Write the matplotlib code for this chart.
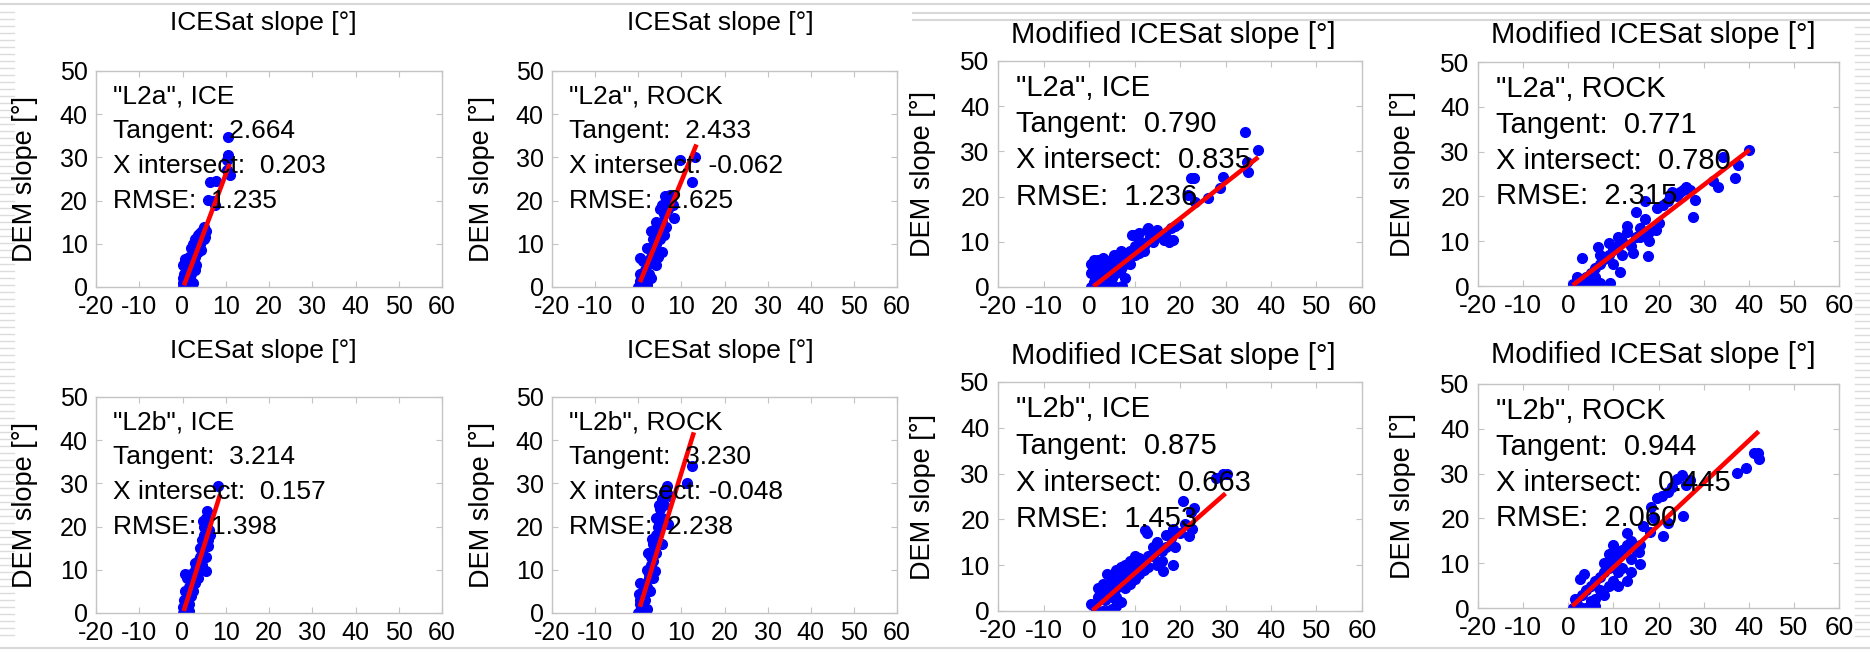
import numpy as np
import matplotlib
matplotlib.use("Agg")
import matplotlib.pyplot as plt
from matplotlib.lines import Line2D

plt.rcParams['font.family'] = ['Liberation Sans', 'DejaVu Sans']
plt.rcParams['axes.unicode_minus'] = False

# panel labels and fit statistics
panel_names = ['"L2a", ICE', '"L2a", ROCK', '"L2a", ICE', '"L2a", ROCK',
               '"L2b", ICE', '"L2b", ROCK', '"L2b", ICE', '"L2b", ROCK']
tangents = [2.664, 2.433, 0.790, 0.771, 3.214, 3.230, 0.875, 0.944]
x_intersects = [0.203, -0.062, 0.835, 0.780, 0.157, -0.048, 0.663, 0.445]
rmses = [1.235, 2.625, 1.236, 2.315, 1.398, 2.238, 1.453, 2.060]
# x range covered by each fitted line
fit_x_start = [0.35, 0.4, 1.0, 1.0, 0.3, 0.4, 0.8, 0.9]
fit_x_end = [10.9, 13.5, 37.2, 40.2, 8.7, 12.9, 30.0, 42.2]

xticks = [-20, -10, 0, 10, 20, 30, 40, 50, 60]
yticks = [0, 10, 20, 30, 40, 50]

# (ICESat slope, DEM slope) points
l2a_ice_orig = [(10.5,34.8),(10.5,30.6),(10.2,29.4),(11.0,26.0),(10.3,27.0),(6.3,24.4),(7.7,24.6),(6.0,20.1),
                (7.0,20.0),(7.5,19.0),(5.0,14.0),(4.5,13.0),(4.0,12.5),(3.5,12.0),(3.0,11.0),(2.5,10.0),(2.0,9.0),
                (1.5,7.0),(1.0,6.0),(0.5,6.0),(0.0,5.0),(0.3,3.0),(0.0,1.0),(0.0,0.0),(1.0,0.0),(2.0,0.0),(2.5,1.0),
                (2.0,3.0),(2.5,5.0),(3.0,7.0),(3.5,8.0),(4.0,10.0),(5.0,11.0),(5.5,13.0),(3.0,9.0),(1.5,4.0),(1.0,2.0),
                (0.5,0.5),(1.5,1.0),(0.2,2.0),(1.2,3.5),(2.2,6.0),(3.2,5.0),(4.2,8.5),(0.8,4.5),(1.8,2.0),(2.8,4.0),
                (4.8,12.0),(5.3,11.5),(0.5,6.5)]
l2a_rock_orig = [(13.2,30.2),(9.7,29.4),(12.5,24.4),(8.3,15.9),(7.4,21.3),(6.8,20.0),(6.3,21.0),(4.6,7.0),(0.4,6.8),
                 (0.0,0.0),(1.0,0.0),(2.0,1.0),(1.0,2.0),(0.5,3.0),(1.5,4.0),(2.0,5.0),(3.0,7.0),(3.0,9.0),(2.0,9.0),
                 (3.5,11.0),(4.0,12.0),(4.5,13.0),(5.0,14.0),(5.5,15.0),(6.0,17.0),(5.0,18.0),(5.5,19.0),(4.0,15.0),
                 (3.0,13.0),(4.0,10.0),(5.0,11.0),(6.0,12.0),(3.5,8.0),(2.5,3.0),(3.0,2.0),(1.5,0.0),(2.0,0.5),
                 (7.0,18.0),(8.0,19.0),(6.5,20.0),(4.0,5.0),(5.5,8.0),(0.3,1.5),(1.2,6.0),(2.5,6.0),(3.8,13.5),
                 (6.5,14.0),(7.5,20.5),(0.8,0.5)]
l2a_ice_mod = [(34.3,34.4),(37.1,30.3),(34.7,27.7),(35.0,25.5),(29.5,24.4),(23.0,24.2),(22.4,24.2),(21.8,20.4),
               (23.3,18.9),(26.2,19.8),(28.8,22.0),(18.5,10.4),(9.4,11.5),(12.7,12.6),(15.0,12.6),(19.5,14.0),
               (18.0,13.0),(17.0,11.0),(16.5,10.5),(13.0,13.0),(11.0,12.0),(10.0,11.5),(12.0,9.0),(14.0,10.0),
               (9.0,8.0),(8.0,7.0),(7.0,8.0),(6.0,6.0),(5.0,5.0),(4.0,4.0),(3.0,3.5),(2.0,6.0),(1.0,6.0),(3.0,6.5),
               (2.0,2.0),(1.0,1.0),(0.5,0.0),(1.0,0.5),(2.0,0.0),(4.0,0.0),(6.0,0.0),(7.3,0.2),(8.0,2.0),(9.0,5.0),
               (10.0,7.0),(11.0,7.5),(12.0,8.0),(5.0,2.0),(6.0,3.0),(3.0,1.0),(4.0,2.0),(0.5,3.0),(0.5,5.0),
               (1.5,4.0),(2.5,4.5),(7.0,4.0),(8.0,5.0),(10.0,9.0),(15.0,11.0),(17.5,10.0),(19.0,13.5),(3.5,6.0),
               (5.5,7.0),(6.5,4.5),(8.5,6.0),(11.5,10.0),(13.5,11.0),(4.5,3.0),(2.5,1.0),(1.5,2.5)]
l2a_rock_mod = [(40.1,30.4),(34.3,28.9),(37.6,27.0),(37.0,24.2),(33.2,22.0),(32.0,23.5),(27.6,15.5),(28.0,19.2),
                (27.0,21.5),(24.8,21.0),(22.5,20.3),(19.6,17.3),(17.0,19.0),(17.7,6.7),(14.4,7.3),(11.5,3.2),
                (9.3,0.6),(7.0,0.6),(6.0,0.3),(5.9,1.9),(3.0,6.2),(6.6,8.8),(19.5,12.5),(20.0,14.0),(18.0,12.0),
                (16.0,13.0),(15.0,11.0),(13.0,12.0),(12.0,10.0),(11.0,9.0),(10.0,8.0),(9.0,7.0),(8.0,6.0),(7.0,5.0),
                (6.0,4.0),(5.0,3.0),(4.0,2.0),(3.0,1.0),(2.0,2.0),(1.0,0.5),(1.5,0.0),(3.0,0.0),(4.0,0.5),(5.0,0.0),
                (10.0,5.0),(12.0,7.0),(14.0,9.0),(16.0,11.0),(17.0,15.0),(15.0,16.5),(21.0,18.0),(23.0,21.0),
                (18.0,10.0),(13.0,13.5),(11.0,11.0),(9.0,9.5),(7.0,7.0),(22.0,19.0),(25.5,21.5),(24.0,20.0),
                (26.0,22.0)]
l2b_ice_orig = [(8.3,29.4),(5.6,23.6),(4.7,21.2),(6.1,19.2),(6.0,15.5),(5.5,9.8),(0.0,0.0),(0.5,1.0),(1.0,0.0),
                (0.3,3.0),(1.0,4.0),(0.5,5.0),(1.5,6.0),(2.0,7.0),(2.5,8.0),(2.0,9.0),(3.0,10.0),(3.5,12.0),
                (4.0,13.0),(4.5,14.0),(4.0,15.0),(5.0,16.0),(5.0,18.0),(5.0,20.0),(5.5,22.0),(4.0,10.0),(3.0,7.0),
                (2.0,4.0),(1.5,2.0),(3.5,8.0),(4.5,11.0),(5.5,13.0),(6.0,17.0),(1.0,8.0),(0.5,9.0),(1.5,0.5),
                (2.5,5.0),(3.0,11.5),(4.5,17.0),(0.2,1.5),(6.3,18.0)]
l2b_rock_orig = [(12.5,34.0),(11.3,30.2),(6.7,29.4),(7.4,27.0),(5.4,26.4),(4.7,25.0),(5.0,24.0),(4.8,21.0),
                 (6.8,20.5),(5.4,16.0),(3.1,17.1),(2.3,14.0),(3.9,9.7),(3.4,8.0),(0.4,7.0),(0.0,0.0),(0.5,0.5),
                 (1.0,0.0),(0.3,2.0),(0.5,3.0),(1.0,4.0),(1.5,5.0),(2.0,6.0),(2.5,8.0),(2.0,10.0),(3.0,11.0),
                 (3.5,12.0),(3.0,13.0),(4.0,14.0),(2.5,9.0),(1.5,3.0),(1.0,2.0),(2.0,1.0),(4.0,18.0),(4.5,20.0),
                 (5.5,22.0),(6.0,28.0),(6.0,25.0),(4.0,22.0),(3.5,16.0),(1.0,6.5),(2.8,5.0),(0.2,4.5)]
l2b_ice_mod = [(28.0,29.0),(30.3,29.9),(29.5,30.0),(20.7,24.0),(23.0,22.5),(22.4,21.6),(22.6,17.9),(21.9,16.4),
               (18.5,10.0),(16.3,8.7),(12.7,17.0),(18.5,18.0),(12.3,17.7),(1.0,1.0),(2.0,0.0),(3.0,0.0),(4.0,0.0),
               (5.0,0.5),(6.0,1.0),(0.5,1.5),(2.0,3.0),(3.0,5.0),(4.0,4.0),(5.0,3.0),(6.0,5.0),(7.0,7.0),(8.0,8.0),
               (9.0,9.0),(10.0,10.0),(11.0,11.5),(12.0,11.0),(13.0,12.0),(14.0,14.0),(15.0,15.0),(16.0,13.0),
               (17.0,14.0),(18.0,16.0),(14.0,12.0),(12.0,9.0),(10.0,7.0),(8.0,5.0),(6.0,3.0),(9.0,6.0),(11.0,8.0),
               (13.0,9.5),(15.0,10.0),(7.0,2.0),(5.0,7.0),(4.0,8.0),(3.0,6.0),(2.0,5.0),(6.0,9.0),(8.0,10.0),
               (10.0,12.0),(16.0,11.0),(19.0,14.0),(21.0,19.0),(20.0,17.0),(9.0,11.0),(7.0,9.5),(5.0,5.0),
               (3.5,2.5),(17.0,16.5)]
l2b_rock_mod = [(42.0,34.7),(42.3,33.2),(41.2,34.5),(39.4,31.3),(37.4,30.2),(25.2,29.7),(27.0,28.5),(24.2,28.8),
                (22.0,26.0),(20.8,25.0),(19.6,24.5),(18.4,22.5),(25.5,20.6),(21.0,16.0),(22.0,19.0),(16.6,18.3),
                (18.2,17.0),(13.0,16.8),(15.9,9.8),(15.6,12.5),(13.0,6.0),(2.6,6.4),(3.6,7.5),(1.0,0.0),(2.0,0.0),
                (3.0,0.0),(4.0,0.0),(5.0,0.0),(6.0,0.5),(1.5,2.0),(3.0,3.0),(4.0,4.0),(5.0,5.0),(6.0,6.0),(7.0,7.0),
                (8.0,8.0),(9.0,9.0),(10.0,10.0),(11.0,12.0),(12.0,13.0),(13.0,14.0),(10.0,14.0),(9.0,12.0),
                (8.0,10.0),(7.0,4.0),(8.0,3.0),(10.0,6.0),(11.0,8.0),(12.0,9.0),(14.0,11.0),(15.0,13.0),(6.0,2.0),
                (5.0,1.5),(9.0,5.0),(11.0,5.0),(14.0,8.0),(14.0,15.0),(16.0,14.0),(23.0,27.0),(26.0,27.5),
                (19.0,20.0),(2.0,1.0)]

panel_points = [l2a_ice_orig, l2a_rock_orig, l2a_ice_mod, l2a_rock_mod,
                l2b_ice_orig, l2b_rock_orig, l2b_ice_mod, l2b_rock_mod]

W, H = 1870, 652
fig = plt.figure(figsize=(W / 100, H / 100), dpi=100)

# axes boxes in pixels: left, top, right, bottom
boxes = [(96, 71, 442, 287), (552, 71, 897, 287), (998, 61, 1362, 287), (1478, 62, 1839, 286),
         (96, 397, 442, 613), (552, 397, 897, 613), (998, 382, 1362, 611), (1478, 384, 1839, 608)]
titles = ['ICESat slope [°]', 'ICESat slope [°]', 'Modified ICESat slope [°]', 'Modified ICESat slope [°]'] * 2
title_pos = [(263, 23), (720, 23), (1173, 35), (1653, 35), (263, 351), (720, 351), (1173, 356), (1653, 355)]
ylabel_x = [25, 482, 923, 1403]

grey = '#c4c4c4'
for i, (l, t, r, b) in enumerate(boxes):
    ax = fig.add_axes([l / W, 1 - b / H, (r - l) / W, (b - t) / H])
    big = (i % 4) >= 2
    tick_fs = 19 if big else 18
    txt_fs = 21 if big else 19

    pts = np.array(panel_points[i])
    ax.plot(pts[:, 0], pts[:, 1], 'o', color='blue', mec='blue', ms=7, zorder=2)
    xs = np.array([fit_x_start[i], fit_x_end[i]])
    ax.plot(xs, tangents[i] * (xs - x_intersects[i]), color='red', lw=3.3, zorder=3,
            solid_capstyle='butt')

    ax.set_xlim(-20, 60)
    ax.set_ylim(0, 50)
    ax.set_xticks(xticks)
    ax.set_yticks(yticks)
    ax.tick_params(direction='in', length=4, color=grey, top=True, right=True,
                   labelsize=tick_fs, pad=6)
    for s in ax.spines.values():
        s.set_color(grey)
        s.set_linewidth(1.0)

    lines = [panel_names[i],
             'Tangent:  %.3f' % tangents[i],
             'X intersect: %s' % ('%.3f' % x_intersects[i] if x_intersects[i] < 0 else ' %.3f' % x_intersects[i]),
             'RMSE:  %.3f' % rmses[i]]
    for k, s in enumerate(lines):
        ax.text(-16, 44 - 8 * k, s, fontsize=txt_fs, va='center', ha='left', zorder=4)

    tx, ty = title_pos[i]
    fig.text(tx / W, 1 - ty / H, titles[i], fontsize=21 if big else 19, ha='center', va='center')
    fig.text(ylabel_x[i % 4] / W, 1 - (t + b) / 2 / H, 'DEM slope [°]', fontsize=19.5,
             rotation=90, ha='center', va='center')

# slide background decoration
fig.add_artist(Line2D([0, 1], [1 - 4 / H, 1 - 4 / H], color='#d8d8d8', lw=1.5))
for yy in (13, 20):
    fig.add_artist(Line2D([913 / W, 1], [1 - yy / H, 1 - yy / H], color='#d8d8d8', lw=1.5))
fig.add_artist(Line2D([0, 1], [1 - 648 / H, 1 - 648 / H], color='#d8d8d8', lw=1.5))
for yy in range(12, 640, 7):
    fig.add_artist(Line2D([0, 14 / W], [1 - yy / H, 1 - yy / H], color='#dcdcdc', lw=1))
for yy in range(27, 640, 7):
    fig.add_artist(Line2D([1855 / W, 1], [1 - yy / H, 1 - yy / H], color='#dcdcdc', lw=1))

fig.savefig('out.png', dpi=100)
